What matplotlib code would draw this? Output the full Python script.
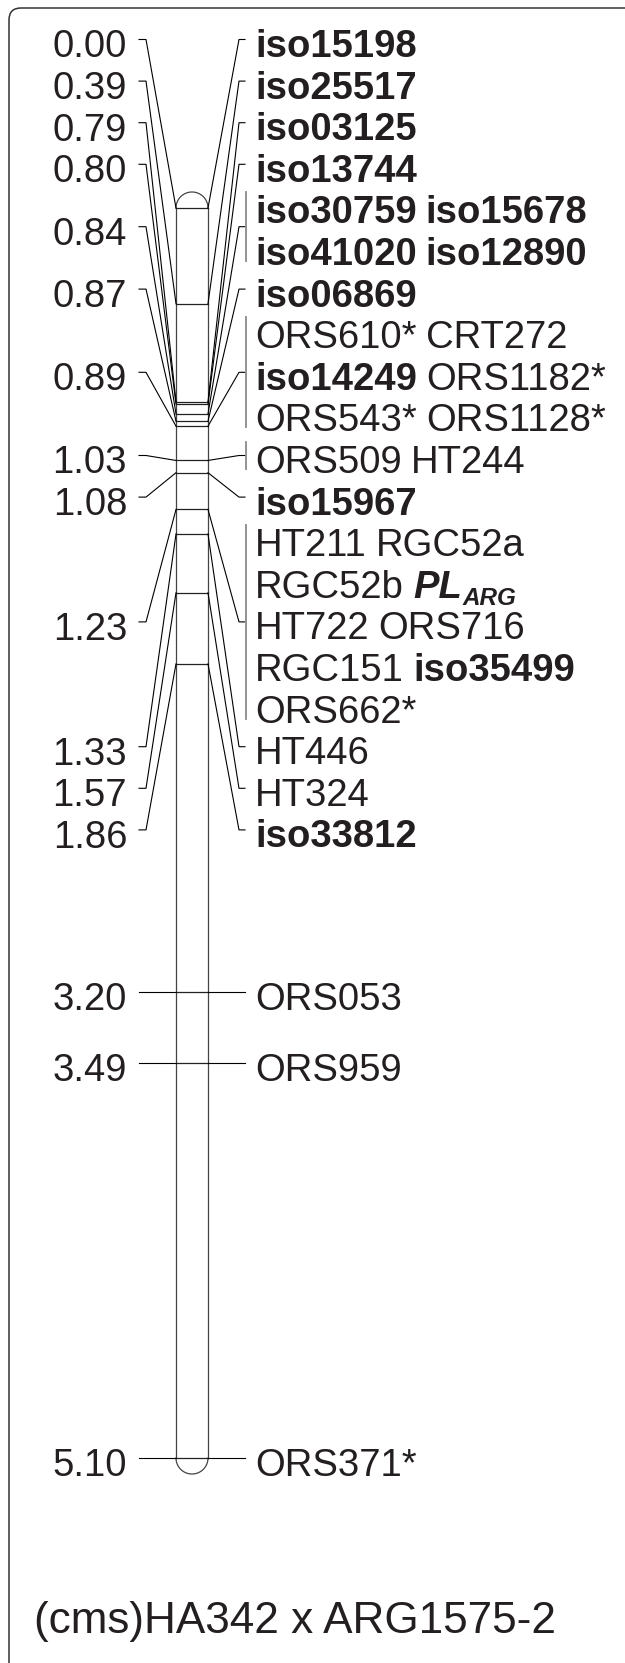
import numpy as np
import matplotlib.pyplot as plt
from matplotlib.patches import FancyBboxPatch

# map positions (cM) and the markers placed at each position
positions = [0.00, 0.39, 0.79, 0.80, 0.84, 0.87, 0.89, 1.03, 1.08,
             1.23, 1.33, 1.57, 1.86, 3.20, 3.49, 5.10]
markers = [
    ['iso15198'],
    ['iso25517'],
    ['iso03125'],
    ['iso13744'],
    ['iso30759 iso15678', 'iso41020 iso12890'],
    ['iso06869'],
    ['ORS610* CRT272', 'iso14249 ORS1182*', 'ORS543* ORS1128*'],
    ['ORS509 HT244'],
    ['iso15967'],
    ['HT211 RGC52a', 'RGC52b PL_ARG', 'HT722 ORS716', 'RGC151 iso35499', 'ORS662*'],
    ['HT446'],
    ['HT324'],
    ['iso33812'],
    ['ORS053'],
    ['ORS959'],
    ['ORS371*'],
]
cross_label = '(cms)HA342 x ARG1575-2'

plt.rcParams['font.family'] = ['Liberation Sans', 'DejaVu Sans']
INK = '#231f20'
FS = 27.5

W, H = 625, 1663
PX_CM = 245.1     # pixels per cM
TOP = 208         # pixel row of 0.00
N_STACKED = 13    # loci whose labels are stacked in rows
ROW0, STEP = 44, 41.6


def cm(py):
    # pixel row -> map coordinate
    return (py - TOP) / PX_CM


fig = plt.figure(figsize=(W / 100, H / 100), dpi=100)

# frame and cross name
frame = fig.add_axes([0, 0, 1, 1])
frame.set_xlim(0, W)
frame.set_ylim(H, 0)
frame.axis('off')
frame.add_patch(FancyBboxPatch((9, 8), 900, 1900, boxstyle='round,pad=0,rounding_size=12',
                               fc='none', ec='#333333', lw=1.1))
frame.text(34, 1633, cross_label, fontsize=31.8, color=INK, va='baseline')

ax = fig.add_axes([0, 0, 1, 1])
ax.set_xlim(0, W)
ax.set_ylim(cm(H), cm(0))
ax.axis('off')

# chromosome bar
L, R = 176, 208
mid, rad = (L + R) / 2, (R - L) / 2
ymax = positions[-1]
t = np.linspace(0, np.pi, 80)
ax.plot([L, L], [0, ymax], color='#444444', lw=0.9)
ax.plot([R, R], [0, ymax], color='#444444', lw=0.9)
ax.plot(mid + rad * np.cos(t), 0 - rad / PX_CM * np.sin(t), color='#444444', lw=0.9)
ax.plot(mid + rad * np.cos(t), ymax + rad / PX_CM * np.sin(t), color='#444444', lw=0.9)
for p in positions:
    ax.plot([L, R], [p, p], color='#222222', lw=0.9)

renderer = fig.canvas.get_renderer()
GAP = 9


def put_word(x, y, word):
    if word == 'PL_ARG':
        t1 = ax.text(x, y, 'PL', fontsize=FS, fontweight='bold', fontstyle='italic',
                     color=INK, va='baseline')
        w = t1.get_window_extent(renderer=renderer).width
        t2 = ax.text(x + w + 1, y + 7 / PX_CM, 'ARG', fontsize=17.5, fontweight='bold',
                     fontstyle='italic', color=INK, va='baseline')
        return w + 1 + t2.get_window_extent(renderer=renderer).width
    weight = 'bold' if word.startswith('iso') else 'normal'
    tx = ax.text(x, y, word, fontsize=FS, fontweight=weight, color=INK, va='baseline')
    return tx.get_window_extent(renderer=renderer).width


k = 0
for i, (p, lines) in enumerate(zip(positions, markers)):
    if i < N_STACKED:
        centers = [ROW0 + (k + j) * STEP for j in range(len(lines))]
        k += len(lines)
    else:
        centers = [p * PX_CM + TOP + 4.5]
    top, bot = centers[0] - 18, centers[-1] + 9
    tick = (top + bot) / 2
    ty = cm(tick)

    # left side: position value
    ax.plot([139, 146, L], [ty, ty, p], color='black', lw=0.8)
    ax.text(127, cm(tick + 18), f'{p:.2f}', fontsize=FS, color=INK,
            ha='right', va='baseline')

    # right side: marker names
    ax.plot([R, 239, 245], [p, ty, ty], color='black', lw=0.8)
    n_words = sum(len(s.split()) for s in lines)
    if n_words > 1:
        ax.plot([246, 246], [cm(top), cm(bot)], color='#8a8a8a', lw=1.3)
    for c, line in zip(centers, lines):
        x = 255
        for word in line.split():
            x += put_word(x, cm(c + 13), word) + GAP

fig.savefig('out.png', dpi=100)
